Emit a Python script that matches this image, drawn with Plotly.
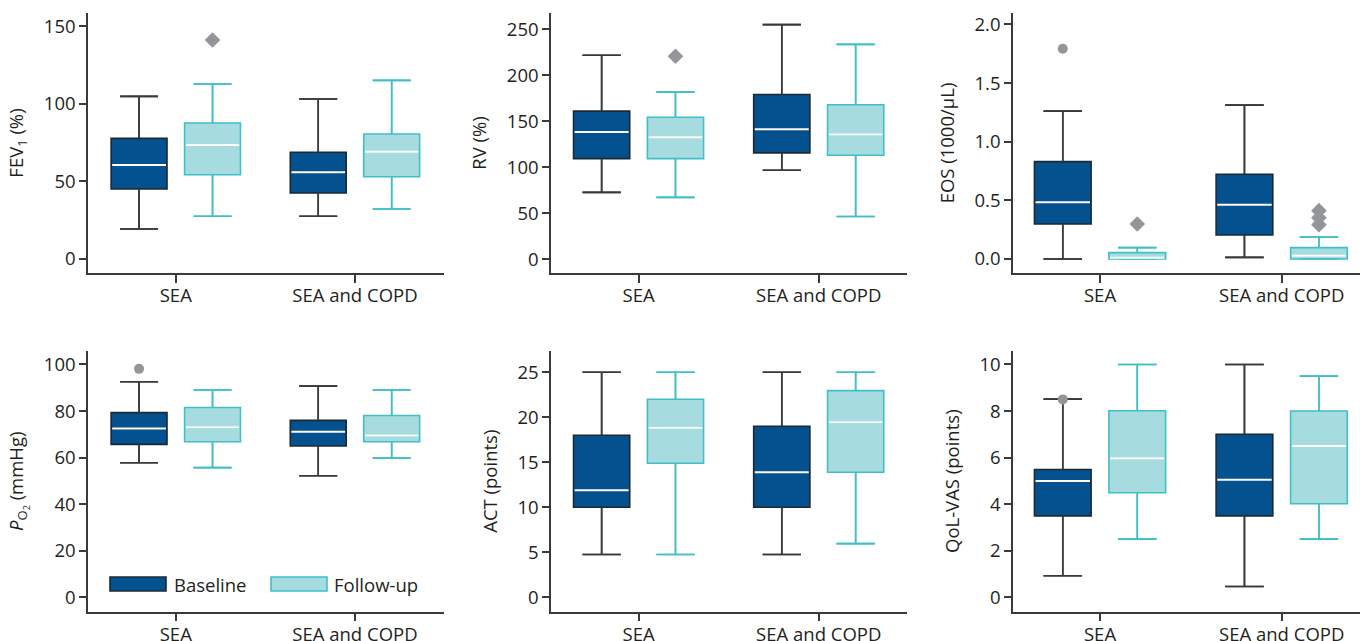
import plotly.graph_objects as go

# ---------------- data ----------------
categories = ["SEA", "SEA and COPD"]

# five-number summaries per category: [lower whisker, Q1, median, Q3, upper whisker]
fev1_baseline = [[19.3, 45.1, 60.5, 77.7, 104.7], [27.5, 42.5, 55.8, 68.7, 103.0]]
fev1_followup = [[27.5, 54.3, 73.4, 87.6, 112.7], [32.2, 53.0, 69.1, 80.5, 115.0]]
fev1_out_baseline = [[], []]
fev1_out_followup = [[141.0], []]

rv_baseline = [[72.7, 109.4, 138.4, 161.0, 221.7], [96.7, 115.6, 141.4, 179.0, 255.0]]
rv_followup = [[67.2, 109.4, 132.6, 154.4, 181.7], [46.5, 113.0, 135.5, 167.9, 233.6]]
rv_out_baseline = [[], []]
rv_out_followup = [[220.6], []]

eos_baseline = [[0.0, 0.298, 0.483, 0.830, 1.261], [0.014, 0.205, 0.463, 0.722, 1.312]]
eos_followup = [[0.0, 0.0, 0.01, 0.054, 0.097], [0.0, 0.0, 0.028, 0.097, 0.188]]
eos_out_baseline = [[1.793], []]
eos_out_followup = [[0.298], [0.293, 0.352, 0.412]]

po2_baseline = [[57.8, 65.7, 72.5, 79.3, 92.6], [52.2, 65.0, 71.1, 76.0, 90.7]]
po2_followup = [[55.7, 66.8, 73.0, 81.5, 89.0], [59.8, 66.8, 69.5, 78.1, 89.0]]
po2_out_baseline = [[98.1], []]
po2_out_followup = [[], []]

act_baseline = [[4.75, 10.0, 11.9, 18.0, 25.0], [4.75, 10.0, 13.9, 19.0, 25.0]]
act_followup = [[4.75, 14.9, 18.85, 22.0, 25.0], [5.96, 13.9, 19.44, 22.96, 25.0]]
act_out_baseline = [[], []]
act_out_followup = [[], []]

qol_baseline = [[0.93, 3.5, 5.0, 5.49, 8.51], [0.47, 3.5, 5.05, 7.0, 10.0]]
qol_followup = [[2.5, 4.49, 5.97, 8.01, 10.0], [2.5, 4.02, 6.5, 8.0, 9.5]]
qol_out_baseline = [[8.5], []]
qol_out_followup = [[], []]

y_titles = ["FEV<sub>1</sub> (%)", "RV (%)", "EOS (1000/µL)",
            "<i>P</i><sub>O<sub>2</sub></sub> (mmHg)", "ACT (points)", "QoL-VAS (points)"]
y_ranges = [[-9.2, 158.6], [-15.3, 268], [-0.122, 2.10],
            [-6.15, 105.9], [-1.6, 27.4], [-0.615, 10.59]]
y_dticks = [50, 50, 0.5, 20, 5, 2]
y_formats = ["", "", ".1f", "", "", ""]

group_names = ["Baseline", "Follow-up"]

panels = [
    (fev1_baseline, fev1_followup, fev1_out_baseline, fev1_out_followup),
    (rv_baseline, rv_followup, rv_out_baseline, rv_out_followup),
    (eos_baseline, eos_followup, eos_out_baseline, eos_out_followup),
    (po2_baseline, po2_followup, po2_out_baseline, po2_out_followup),
    (act_baseline, act_followup, act_out_baseline, act_out_followup),
    (qol_baseline, qol_followup, qol_out_baseline, qol_out_followup),
]

# ---------------- styles ----------------
FONT = "Open Sans"
FS = 18.5
TXT = "#231f20"
AX = "#3a3a3a"
fill_colors = ["#03518f", "#a6dcdf"]
line_colors = ["#1e2833", "#40bfc7"]
whisk_colors = ["#3a3a3a", "#40bfc7"]
out_color = "#939598"
out_symbols = ["circle", "diamond"]
out_sizes = [10, 12]
OFFSET = 0.205
BOXW = 0.312

x_domains = [[88 / 1360, 444 / 1360], [551 / 1360, 907 / 1360], [1013 / 1360, 1.0]]
y_domains = [[1 - 273.3 / 641, 1 - 12.7 / 641], [1 - 611.7 / 641, 1 - 350.7 / 641]]
x_ranges = [[-0.49, 1.497], [-0.486, 1.49], [-0.479, 1.431]]

fig = go.Figure()
layout = {}

for i, (base, foll, out_b, out_f) in enumerate(panels):
    n = i + 1
    xa = "x" if n == 1 else f"x{n}"
    ya = "y" if n == 1 else f"y{n}"
    row, col = divmod(i, 3)
    for g, stats in enumerate([base, foll]):
        sign = -1 if g == 0 else 1
        xs = [c + sign * OFFSET for c in range(len(categories))]
        fig.add_trace(go.Box(
            x=xs,
            lowerfence=[s[0] for s in stats],
            q1=[s[1] for s in stats],
            median=[s[2] for s in stats],
            q3=[s[3] for s in stats],
            upperfence=[s[4] for s in stats],
            width=BOXW, whiskerwidth=0.68,
            fillcolor=fill_colors[g],
            line=dict(color=line_colors[g], width=1.6),
            boxpoints=False, showlegend=False, name=group_names[g],
            hoverinfo="skip", xaxis=xa, yaxis=ya,
        ))
        # re-draw whiskers in whisker colour (baseline whiskers are grey)
        wx, wy = [], []
        for c, s in enumerate(stats):
            px = xs[c]
            cap = BOXW * 0.68 / 2
            wx += [px, px, None, px, px, None,
                   px - cap, px + cap, None, px - cap, px + cap, None]
            wy += [s[0], s[1], None, s[3], s[4], None,
                   s[0], s[0], None, s[4], s[4], None]
        fig.add_trace(go.Scatter(x=wx, y=wy, mode="lines",
                                 line=dict(color=whisk_colors[g], width=1.6),
                                 showlegend=False, hoverinfo="skip",
                                 xaxis=xa, yaxis=ya))
        # white median lines
        mx, my = [], []
        for c, s in enumerate(stats):
            px = xs[c]
            half = BOXW / 2 - 0.006
            mx += [px - half, px + half, None]
            my += [s[2], s[2], None]
        fig.add_trace(go.Scatter(x=mx, y=my, mode="lines",
                                 line=dict(color="white", width=2),
                                 showlegend=False, hoverinfo="skip",
                                 xaxis=xa, yaxis=ya))
        # outliers
        outs = out_b if g == 0 else out_f
        ox, oy = [], []
        for c, vals in enumerate(outs):
            for v in vals:
                ox.append(xs[c])
                oy.append(v)
        if ox:
            fig.add_trace(go.Scatter(x=ox, y=oy, mode="markers",
                                     marker=dict(color=out_color, symbol=out_symbols[g],
                                                 size=out_sizes[g], line=dict(width=0)),
                                     showlegend=False, hoverinfo="skip",
                                     xaxis=xa, yaxis=ya))

    xkey = "xaxis" if n == 1 else f"xaxis{n}"
    ykey = "yaxis" if n == 1 else f"yaxis{n}"
    layout[xkey] = dict(
        domain=x_domains[col], anchor=ya, range=x_ranges[col],
        tickvals=list(range(len(categories))), ticktext=categories,
        showline=True, linecolor=AX, linewidth=1.5, ticks="outside",
        ticklen=8, tickwidth=1.5, tickcolor=AX, showgrid=False, zeroline=False,
        ticklabelstandoff=-3,
        tickfont=dict(family=FONT, size=FS, color=TXT), automargin=False,
    )
    layout[ykey] = dict(
        domain=y_domains[row], anchor=xa, range=y_ranges[i], dtick=y_dticks[i],
        tick0=0, tickformat=y_formats[i],
        showline=True, linecolor=AX, linewidth=1.5, ticks="outside",
        ticklen=7, tickwidth=1.5, tickcolor=AX, showgrid=False, zeroline=False,
        tickfont=dict(family=FONT, size=FS, color=TXT), automargin=False,
        title=dict(text=y_titles[i], font=dict(family=FONT, size=FS, color=TXT)),
    )

# legend drawn as a key inside the PO2 panel
legend_shapes = []
legend_annots = []
leg_x = [(110, 166, 172), (271, 327, 332)]
for g, (x0, x1, xt) in enumerate(leg_x):
    legend_shapes.append(dict(type="rect", xref="paper", yref="paper",
                              x0=x0 / 1360, x1=x1 / 1360,
                              y0=1 - 591 / 641, y1=1 - 577 / 641,
                              fillcolor=fill_colors[g],
                              line=dict(color=line_colors[g], width=1.6)))
    legend_annots.append(dict(text=group_names[g], xref="paper", yref="paper",
                              x=xt / 1360, y=1 - 584 / 641, xanchor="left",
                              yanchor="middle", showarrow=False,
                              font=dict(family=FONT, size=FS, color=TXT)))

fig.update_layout(
    **layout,
    width=1360, height=641,
    margin=dict(l=0, r=0, t=0, b=0),
    paper_bgcolor="white", plot_bgcolor="white",
    shapes=legend_shapes, annotations=legend_annots,
    showlegend=False,
    font=dict(family=FONT, size=FS, color=TXT),
)

fig.write_html("out.html",
               config={"displayModeBar": False},
               post_script="document.body.style.margin='0';document.body.style.padding='0';")
